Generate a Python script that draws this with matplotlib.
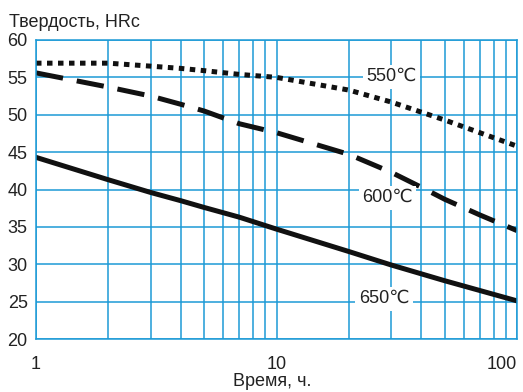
import numpy as np
import matplotlib
matplotlib.use("Agg")
import matplotlib.pyplot as plt

plt.rcParams['font.family'] = ['Liberation Sans', 'DejaVu Sans']

# время, ч
t550 = [1, 2, 3, 4, 5, 7, 10, 20, 30, 50, 100]
hrc550 = [56.9, 56.9, 56.5, 56.2, 55.9, 55.4, 55.0, 53.3, 51.7, 49.3, 45.8]

t600 = [1, 2, 3, 4, 5, 7, 10, 20, 30, 40, 50, 70, 100]
hrc600 = [55.6, 53.7, 52.5, 51.4, 50.5, 48.8, 47.6, 44.7, 42.3, 40.3, 38.7, 36.6, 34.5]

t650 = [1, 2, 3, 4, 5, 7, 10, 20, 30, 50, 100]
hrc650 = [44.3, 41.3, 39.6, 38.5, 37.6, 36.3, 34.7, 31.7, 29.9, 27.8, 25.1]

labels = ["550℃", "600℃", "650℃"]
label_x = [30, 29, 28]
label_y = [55.1, 38.9, 25.4]

blue = '#1c9ad6'

fig = plt.figure(figsize=(5.23, 3.92), dpi=100)
ax = fig.add_axes([36/523, 1-339/392, (517-36)/523, (339-40)/392])

ax.set_xscale('log')
ax.set_xlim(1, 100)
ax.set_ylim(20, 60)

xt = list(range(1, 10)) + list(range(10, 100, 10)) + [100]
for v in xt:
    ax.axvline(v, color=blue, lw=1.1, zorder=0)
for v in range(20, 61, 5):
    ax.axhline(v, color=blue, lw=1.1, zorder=0)
for s in ax.spines.values():
    s.set_color(blue)
    s.set_linewidth(1.1)

ax.plot(t550, hrc550, color='#111111', lw=3.6, linestyle=(0, (1.1, 1.1)), zorder=2)
ax.plot(t600, hrc600, color='#111111', lw=3.6, linestyle=(0, (5.5, 2.8)), zorder=2)
ax.plot(t650, hrc650, color='#111111', lw=3.6, zorder=2)

for s, x, y in zip(labels, label_x, label_y):
    ax.text(x, y, s, ha='center', va='center', fontsize=13, color='#222222',
            bbox=dict(fc='white', ec='none', pad=2.5), zorder=3)

ax.set_xticks([1, 10, 100])
ax.set_xticklabels(['1', '10', '100'])
ax.set_xticks([], minor=True)
ax.set_yticks(range(20, 61, 5))
ax.tick_params(length=0, labelsize=13, colors='#222222')
ax.tick_params(axis='x', pad=12)
ax.tick_params(axis='y', pad=6)
ax.get_xticklabels()[-1].set_ha('right')

fig.text(9/523, 1-27/392, "Твердость, HRc", fontsize=13, color='#222222', va='baseline')
fig.text(272/523, 1-390/392, "Время, ч.", fontsize=13, color='#222222', ha='center', va='bottom')

fig.savefig('out.png', dpi=100)
